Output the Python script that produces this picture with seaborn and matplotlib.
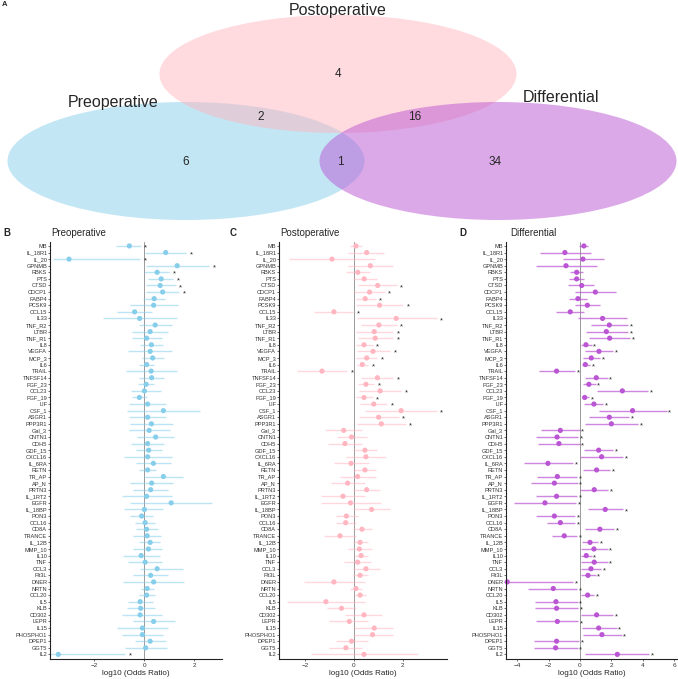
import numpy as np
import pandas as pd
import matplotlib
matplotlib.use('Agg')
from matplotlib import pyplot as plt
from matplotlib.patches import Ellipse
import seaborn as sns

# DATA ###########################
markers = ['MB', 'IL_18R1', 'IL_20', 'GPNMB', 'RBKS', 'PTS', 'CTSD', 'CDCP1', 'FABP4', 'PCSK9',
           'CCL15', 'IL33', 'TNF_R2', 'LTBR', 'TNF_R1', 'IL8', 'VEGFA', 'MCP_3', 'IL6', 'TRAIL',
           'TNFSF14', 'FGF_23', 'CCL23', 'FGF_19', 'LIF', 'CSF_1', 'ASGR1', 'PPP3R1', 'Gal_3', 'CNTN1',
           'CDH5', 'GDF_15', 'CXCL16', 'IL_6RA', 'RETN', 'TR_AP', 'AP_N', 'PRTN3', 'IL_1RT2', 'EGFR',
           'IL_18BP', 'PON3', 'CCL16', 'CD8A', 'TRANCE', 'IL_12B', 'MMP_10', 'IL10', 'TNF', 'CCL3',
           'Flt3L', 'DNER', 'NRTN', 'CCL20', 'IL5', 'KLB', 'CD302', 'LEPR', 'IL15', 'PHOSPHO1',
           'DPEP1', 'GGT5', 'IL2']

pre_est = [-0.6, 0.85, -3.01, 1.31, 0.51, 0.67, 0.63, 0.73, 0.39, 0.37,
           -0.39, -0.19, 0.43, 0.23, 0.09, 0.28, 0.23, 0.33, 0.09, 0.27,
           0.29, 0.07, 0.0, -0.2, 0.13, 0.76, 0.13, 0.28, 0.19, 0.45,
           0.13, 0.17, 0.13, 0.36, 0.13, 0.76, 0.29, 0.25, 0.09, 1.07,
           0.0, -0.11, 0.03, 0.09, 0.11, 0.23, 0.16, -0.13, 0.03, 0.51,
           0.25, 0.37, 0.11, 0.09, -0.17, -0.15, -0.17, 0.37, -0.08, -0.08,
           0.23, 0.05, -3.44]
pre_lo = [-1.13, 0.03, -3.64, 0.07, 0.0, 0.13, 0.05, 0.05, -0.04, -0.57,
          -1.08, -1.64, -0.2, -0.48, -0.48, -0.17, -0.64, -0.11, -0.2, -0.73,
          -0.21, -0.27, -0.53, -0.48, -0.61, -0.68, -0.6, -0.57, -0.61, -0.28,
          -0.53, -0.33, -0.8, -0.33, -0.2, 0.0, -0.57, -0.47, -0.88, -0.57,
          -0.8, -0.57, -0.37, -0.33, -0.47, -0.2, -0.44, -0.87, -0.67, -0.17,
          -0.44, -0.87, -0.13, -0.2, -0.64, -0.71, -0.88, -0.44, -1.11, -0.91,
          -0.37, -0.77, -3.77]
pre_hi = [-0.15, 1.67, -0.17, 2.59, 1.0, 1.16, 1.25, 1.4, 0.83, 1.36,
          0.29, 1.29, 1.09, 0.96, 0.69, 0.73, 1.12, 0.8, 0.4, 1.29,
          0.8, 0.4, 0.67, 0.09, 0.87, 2.23, 0.87, 1.13, 1.03, 1.19,
          0.8, 0.69, 1.09, 1.08, 0.47, 1.56, 1.16, 0.93, 1.09, 2.72,
          0.76, 0.36, 0.43, 0.56, 0.67, 0.63, 0.69, 0.63, 0.72, 1.56,
          0.93, 1.6, 0.4, 0.43, 0.36, 0.43, 0.69, 1.23, 0.96, 0.76,
          0.87, 0.89, -0.77]
pre_sig = ['MB', 'IL_18R1', 'IL_20', 'GPNMB', 'RBKS', 'PTS', 'CTSD', 'CDCP1', 'IL2']

post_est = [0.08, 0.52, -0.9, 0.67, 0.16, 0.42, 0.97, 0.64, 0.46, 1.05,
            -0.82, 1.73, 1.02, 0.83, 0.87, 0.41, 0.78, 0.52, 0.34, -1.31,
            0.96, 0.49, 1.07, 0.41, 0.81, 1.93, 1.01, 1.12, -0.42, -0.1,
            -0.37, 0.45, 0.49, -0.12, 0.45, 0.15, -0.26, 0.52, -0.45, -0.14,
            0.72, -0.31, -0.34, 0.33, -0.57, 0.25, 0.22, 0.29, 0.15, 0.49,
            0.25, -0.82, 0.08, 0.25, -1.15, -0.51, 0.41, -0.19, 0.83, 0.76,
            -0.1, -0.33, 0.41]
post_lo = [-0.16, -0.23, -2.65, -0.26, -0.34, -0.05, 0.15, 0.01, 0.07, 0.08,
           -1.63, 0.11, 0.29, 0.08, 0.15, 0.08, 0.11, 0.08, 0.11, -2.35,
           0.29, 0.15, 0.2, 0.08, 0.25, 0.45, 0.2, 0.14, -1.19, -0.71,
           -1.05, -0.03, -0.33, -0.82, -0.05, -0.57, -0.94, -0.03, -1.33, -1.35,
           -0.03, -0.74, -0.74, -0.03, -1.23, -0.03, -0.23, -0.01, -0.4, -0.03,
           -0.05, -2.05, -0.16, -0.01, -2.73, -1.12, -0.37, -1.01, 0.0, -0.05,
           -0.74, -1.01, -1.78]
post_hi = [0.34, 1.23, 0.86, 1.61, 0.66, 0.93, 1.75, 1.27, 0.89, 2.02,
           -0.03, 3.39, 1.75, 1.61, 1.61, 0.77, 1.48, 0.96, 0.59, -0.27,
           1.61, 0.83, 1.93, 0.77, 1.37, 3.39, 1.84, 2.12, 0.34, 0.55,
           0.31, 0.93, 1.31, 0.62, 0.89, 0.89, 0.45, 1.07, 0.45, 1.09,
           1.48, 0.15, 0.07, 0.72, 0.08, 0.59, 0.72, 0.56, 0.68, 1.07,
           0.59, 0.45, 0.31, 0.49, 0.45, 0.08, 1.13, 0.59, 1.61, 1.58,
           0.59, 0.34, 2.61]
post_sig = ['CTSD', 'CDCP1', 'FABP4', 'PCSK9', 'CCL15', 'IL33', 'TNF_R2', 'LTBR', 'TNF_R1', 'IL8',
            'VEGFA', 'MCP_3', 'IL6', 'TRAIL', 'TNFSF14', 'FGF_23', 'CCL23', 'FGF_19', 'LIF', 'CSF_1',
            'ASGR1', 'PPP3R1']

diff_est = [0.25, -0.96, 0.19, -0.89, -0.21, -0.21, 0.11, 0.98, -0.13, 0.47,
            -0.62, 1.44, 1.87, 1.68, 1.89, 0.38, 1.21, 0.72, 0.34, -1.49,
            1.04, 0.57, 2.7, 0.3, 0.89, 3.35, 1.87, 2.0, -1.25, -1.46,
            -1.34, 1.19, 1.38, -2.04, 1.06, -1.44, -1.63, 0.91, -1.49, -2.23,
            1.61, -1.63, -1.25, 1.27, -1.0, 0.64, 0.89, 0.4, 0.91, 0.7,
            0.51, -4.63, -1.7, 0.49, -1.53, -1.49, 1.06, -1.44, 1.19, 1.4,
            -1.49, -1.55, 2.38]
diff_lo = [-0.04, -2.55, -1.1, -2.8, -0.64, -0.68, -0.74, -0.32, -0.68, -0.32,
           -1.53, -0.11, 0.68, 0.36, 0.59, 0.06, 0.32, 0.17, 0.11, -2.61,
           0.32, 0.21, 1.06, 0.11, 0.28, 1.21, 0.59, 0.32, -2.48, -2.8,
           -2.65, 0.25, 0.02, -3.57, 0.21, -2.72, -3.12, 0.0, -2.8, -4.18,
           0.49, -2.8, -2.12, 0.32, -1.8, 0.11, 0.04, 0.06, 0.06, 0.06,
           0.06, -4.71, -3.33, 0.06, -2.87, -2.87, 0.06, -2.8, 0.11, 0.21,
           -2.91, -2.91, 0.32]
diff_hi = [0.53, 0.68, 1.53, 1.06, 0.21, 0.25, 0.91, 2.27, 0.42, 1.27,
           0.25, 3.01, 3.08, 3.08, 3.18, 0.74, 2.12, 1.27, 0.64, -0.32,
           1.76, 1.0, 4.35, 0.59, 1.49, 5.52, 3.14, 3.72, -0.02, -0.11,
           -0.02, 2.12, 2.76, -0.42, 1.91, -0.17, -0.15, 1.8, -0.17, -0.25,
           2.76, -0.32, -0.32, 2.17, -0.17, 1.17, 1.76, 0.74, 1.76, 1.34,
           1.0, -0.42, -0.17, 0.91, -0.15, -0.1, 2.12, -0.1, 2.34, 2.65,
           -0.06, -0.15, 4.39]
diff_sig = markers[12:28] + markers[28:]

venn_names = ['Preoperative', 'Postoperative', 'Differential']
venn_counts = {'pre': 6, 'post': 4, 'diff': 34, 'pre_post': 2, 'post_diff': 16, 'pre_diff': 1}
############################

sns.set_style('ticks')
plt.rcParams['font.family'] = ['Liberation Sans', 'DejaVu Sans']

W, H = 678, 679
fig = plt.figure(figsize=(W / 100, H / 100), dpi=100)

blue, pink, purple = '#87CEEB', '#FFB6C1', '#BA55D3'

# Venn ---------------------------------------------------------
axv = fig.add_axes([0, 1 - 225 / H, 1, 225 / H])
axv.set_xlim(0, W)
axv.set_ylim(225, 0)
axv.axis('off')
for (cx, cy), col in zip([(186, 161), (338, 74), (498, 161)], [blue, pink, purple]):
    axv.add_patch(Ellipse((cx, cy), 357, 118, facecolor=col, alpha=0.5, edgecolor='none'))
for name, (tx, ty) in zip(venn_names, [(113, 102), (338, 10), (561, 97)]):
    axv.text(tx, ty, name, fontsize=11.5, ha='center', va='center')
cnt_pos = {'pre': (186, 162), 'post': (338, 74), 'diff': (495, 162),
           'pre_post': (261, 117), 'post_diff': (415, 117), 'pre_diff': (340, 162)}
for k, v in venn_counts.items():
    axv.text(cnt_pos[k][0], cnt_pos[k][1], str(v), fontsize=8.5, ha='center', va='center')
fig.text(2 / W, 1 - 5 / H, 'A', fontsize=5.5, fontweight='bold', va='center')


# Forest plots -------------------------------------------------
def forest(left, width, est, lo, hi, sig, color, lalpha, title, letter, title_x, letter_x, xlim, xticks):
    ax = fig.add_axes([left / W, 20 / H, width / W, 417 / H])
    df = pd.DataFrame({'marker': markers, 'est': est, 'lo': lo, 'hi': hi})
    df['row'] = np.arange(len(df))
    df['sig'] = df['marker'].isin(sig)
    ax.axvline(0, color='#9a9a9a', lw=0.7, zorder=0)
    ax.hlines(df['row'], df['lo'], df['hi'], color=color, alpha=lalpha, lw=1.0, zorder=1)
    sns.scatterplot(data=df, x='est', y='row', color=color, s=14, edgecolor='none', ax=ax, zorder=2,
                    clip_on=False)
    for _, r in df[df['sig']].iterrows():
        ax.text(r['hi'] + 0.2, r['row'] + 0.3, '*', fontsize=5.5, ha='center', va='center')
    ax.set_ylim(62.7, -0.6)
    ax.set_xlim(*xlim)
    ax.set_yticks(df['row'])
    ax.set_yticklabels(df['marker'])
    ax.set_xticks(xticks)
    ax.tick_params(axis='y', labelsize=4.1, length=1.5, width=0.5, pad=0.5, colors='#333333')
    ax.tick_params(axis='x', labelsize=4.6, length=1.5, width=0.5, pad=1.5, colors='#333333')
    ax.set_ylabel('')
    ax.set_xlabel('log10 (Odds Ratio)', fontsize=5.8, labelpad=1.5)
    for s in ['left', 'bottom']:
        ax.spines[s].set_linewidth(0.8)
        ax.spines[s].set_color('#222222')
    sns.despine(ax=ax)
    fig.text(title_x / W, 1 - 233 / H, title, fontsize=7, va='center')
    fig.text(letter_x / W, 1 - 233 / H, letter, fontsize=7, fontweight='bold', va='center')
    return ax


forest(50, 172, pre_est, pre_lo, pre_hi, pre_sig, blue, 0.55, 'Preoperative', 'B', 51, 3,
       (-3.77, 3.1), [-2, 0, 2])
forest(279, 168, post_est, post_lo, post_hi, post_sig, pink, 0.55, 'Postoperative', 'C', 280, 230,
       (-3.07, 3.81), [-2, 0, 2])
forest(506, 171, diff_est, diff_lo, diff_hi, diff_sig, purple, 0.7, 'Differential', 'D', 510, 459,
       (-4.71, 6.18), [-4, -2, 0, 2, 4, 6])

plt.savefig('out.png', dpi=100)
